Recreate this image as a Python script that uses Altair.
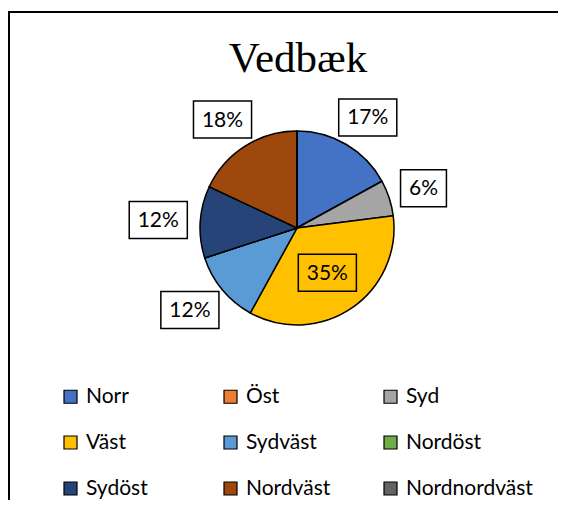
import altair as alt
import pandas as pd

TITLE = "Vedbæk"
categories = ["Norr", "Öst", "Syd", "Väst", "Sydväst", "Nordöst", "Sydöst", "Nordväst", "Nordnordväst"]
values = [17, 0, 6, 35, 12, 0, 12, 18, 0]
colors = ["#4472C4", "#ED7D31", "#A5A5A5", "#FFC000", "#5B9BD5", "#70AD47", "#264478", "#9E480E", "#636363"]
inside_labels = ["Väst"]

df = pd.DataFrame({"cat": categories, "v": values, "idx": list(range(len(categories)))})

W, H = 570, 492
CX, CY = 289, 220   # pie centre in view pixels
R = 97
R_OUT, R_IN = 110, 54
BOX_H = 37
BOX_W2, BOX_W1 = 58, 46

xscale = alt.Scale(domain=[-CX, W - CX], nice=False, zero=False)
yscale = alt.Scale(domain=[CY - H, CY], nice=False, zero=False)

base = alt.Chart(df)

border = alt.Chart(pd.DataFrame({"k": [0]})).mark_rule(color="black", strokeWidth=2).encode(
    x=alt.value(0), x2=alt.value(W - 20), y=alt.value(4)
)
border_left = alt.Chart(pd.DataFrame({"k": [0]})).mark_rule(color="black", strokeWidth=2).encode(
    x=alt.value(1), y=alt.value(3), y2=alt.value(H)
)

title = alt.Chart(pd.DataFrame({"t": [TITLE]})).mark_text(
    font="Liberation Serif", fontSize=43, color="black", align="center", baseline="alphabetic"
).encode(text="t:N", x=alt.value(290), y=alt.value(64))

pie = base.mark_arc(outerRadius=R, stroke="black", strokeWidth=1.5).encode(
    theta=alt.Theta("v:Q", stack=True),
    order=alt.Order("idx:Q"),
    color=alt.Color(
        "cat:N",
        sort=categories,
        scale=alt.Scale(domain=categories, range=colors),
        legend=alt.Legend(
            title=None,
            orient="none",
            direction="horizontal",
            legendX=52,
            legendY=378,
            padding=0,
            columns=3,
            gridAlign="all",
            columnPadding=7,
            rowPadding=24,
            symbolType="square",
            symbolSize=169,
            symbolStrokeColor="black",
            symbolStrokeWidth=1.2,
            labelFont="Lato",
            labelFontSize=21,
            labelColor="black",
            labelOffset=5,
            labelLimit=300,
        ),
    ),
    x=alt.X(datum=0, type="quantitative", scale=xscale, axis=None),
    y=alt.Y(datum=0, type="quantitative", scale=yscale, axis=None),
)

inside_expr = "indexof(" + str(inside_labels).replace("'", '"') + ", datum.cat) >= 0"

lab = (
    base.transform_window(cum="sum(v)", frame=[None, 0])
    .transform_joinaggregate(total="sum(v)")
    .transform_calculate(
        mid="(datum.cum - datum.v / 2) / datum.total * 2 * PI",
        label="datum.v + '%'",
        inside=inside_expr,
    )
    .transform_calculate(
        bw=f"length(datum.label) > 2 ? {BOX_W2} : {BOX_W1}",
        box="length(datum.label) > 2 ? 'M-1.57,-1H1.57V1H-1.57Z' : 'M-1.24,-1H1.24V1H-1.24Z'",
    )
    .transform_calculate(
        px=f"datum.inside ? {R_IN} * sin(datum.mid) : {R_OUT} * sin(datum.mid) + datum.bw / 2 * sin(datum.mid)",
        py=f"datum.inside ? {R_IN} * cos(datum.mid) : {R_OUT} * cos(datum.mid) + {BOX_H} / 2 * cos(datum.mid)",
    )
    .transform_filter("datum.v > 0")
)

boxes = lab.mark_point(filled=True, stroke="black", strokeWidth=1.5, size=BOX_H * BOX_H, opacity=1).encode(
    x=alt.X("px:Q", scale=xscale, axis=None),
    y=alt.Y("py:Q", scale=yscale, axis=None),
    shape=alt.Shape("box:N", scale=None),
    fill=alt.condition("datum.inside", alt.value("transparent"), alt.value("white")),
)

texts = lab.mark_text(font="Lato", fontSize=21, color="black", align="center", baseline="middle", dy=1).encode(
    x=alt.X("px:Q", scale=xscale, axis=None),
    y=alt.Y("py:Q", scale=yscale, axis=None),
    text="label:N",
)

chart = (
    alt.layer(border, border_left, title, pie, boxes, texts)
    .properties(width=W, height=H, autosize="none", padding=0, background="white")
    .configure_view(strokeWidth=0, stroke="transparent")
)

chart.save("out.html", embed_options={"renderer": "svg", "actions": False})
